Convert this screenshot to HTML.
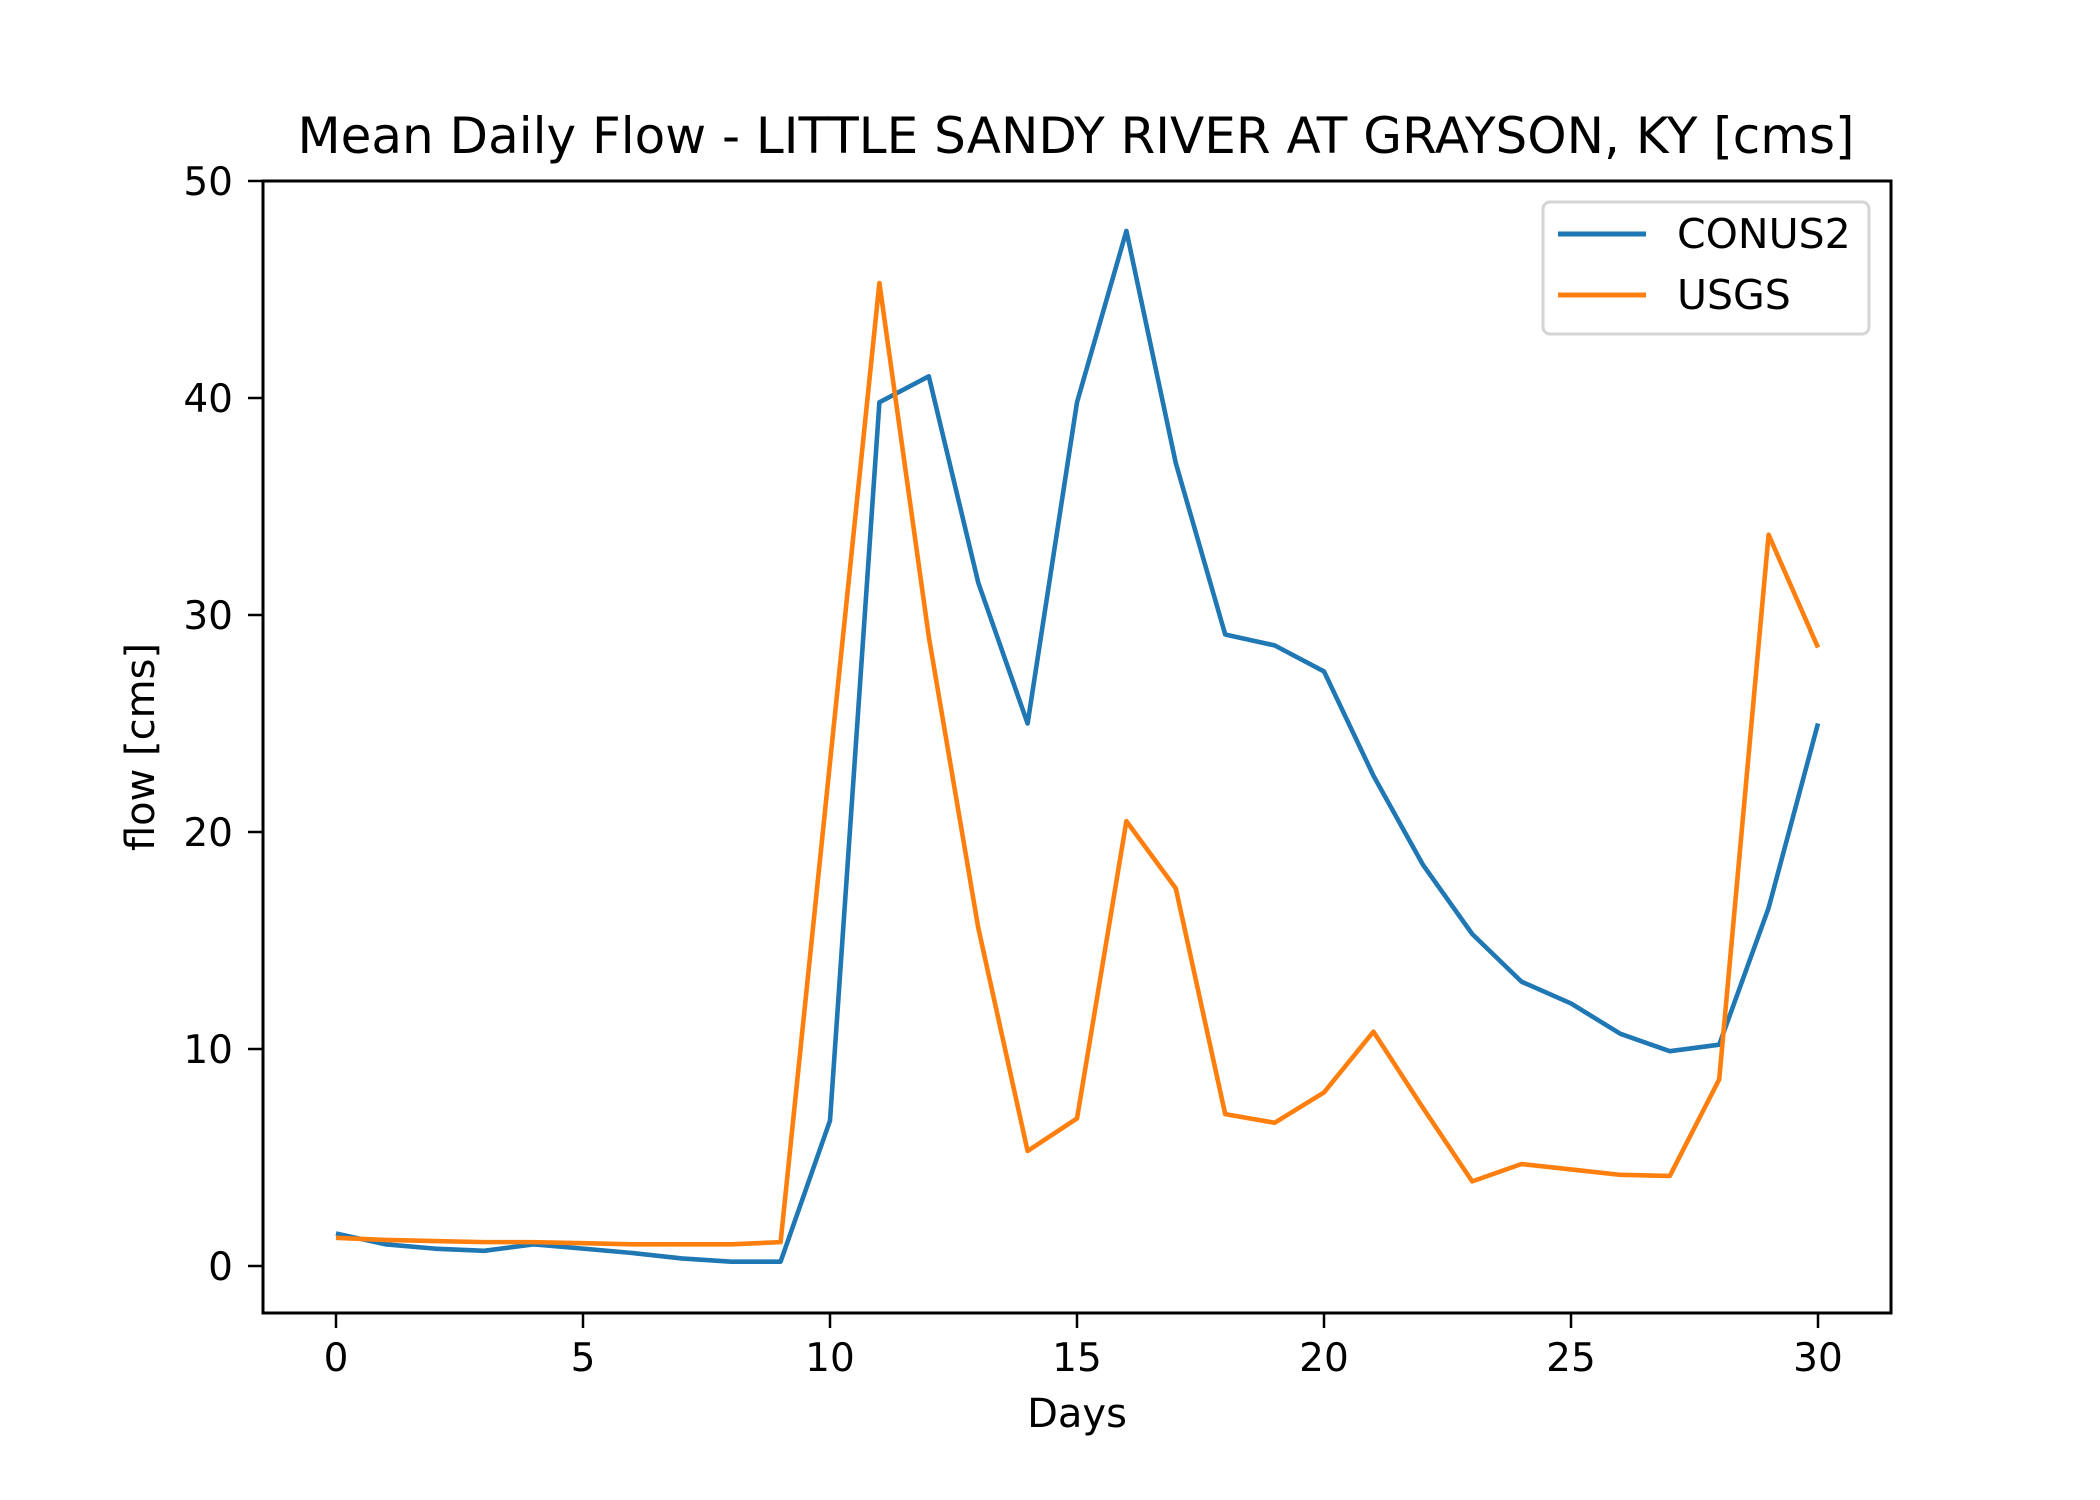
<!DOCTYPE html>
<html><head><meta charset="utf-8"><style>
html,body{margin:0;padding:0;background:#fff;}
svg{display:block;}
text{font-family:"DejaVu Sans","Liberation Sans",sans-serif;fill:#000;}
</style></head><body>
<svg id="chart" width="2100" height="1500" viewBox="0 0 2100 1500" xmlns="http://www.w3.org/2000/svg">
<rect width="2100" height="1500" fill="#fff"/>
<text x="1076" y="153" font-size="50" text-anchor="middle">Mean Daily Flow - LITTLE SANDY RIVER AT GRAYSON, KY [cms]</text>
<g id="ticks"></g>
<g id="lines"></g>
<rect x="263" y="181" width="1628" height="1132" fill="none" stroke="#000" stroke-width="3"/>
<text x="1077" y="1427" font-size="40" text-anchor="middle">Days</text>
<text transform="translate(154,747) rotate(-90)" font-size="40" text-anchor="middle">flow [cms]</text>
<g>
<rect x="1543" y="202" width="326" height="132" rx="7" fill="#fff" stroke="#d4d4d4" stroke-width="3"/>
<line x1="1558" y1="234" x2="1646" y2="234" stroke="#1f77b4" stroke-width="5"/>
<text x="1677" y="248" font-size="41">CONUS2</text>
<line x1="1558" y1="295" x2="1646" y2="295" stroke="#ff7f0e" stroke-width="5"/>
<text x="1677" y="309" font-size="41">USGS</text>
</g>
</svg>
<script>
const days = [0,1,2,3,4,5,6,7,8,9,10,11,12,13,14,15,16,17,18,19,20,21,22,23,24,25,26,27,28,29,30];
const conus2 = [1.5,1.0,0.8,0.7,1.0,0.8,0.6,0.35,0.2,0.2,6.7,39.8,41.0,31.5,25.0,39.8,47.7,37.0,29.1,28.6,27.4,22.6,18.5,15.3,13.1,12.1,10.7,9.9,10.2,16.5,25.0];
const usgs = [1.3,1.2,1.15,1.1,1.1,1.05,1.0,1.0,1.0,1.1,23.2,45.3,29.0,15.6,5.3,6.8,20.5,17.4,7.0,6.6,8.0,10.8,7.3,3.9,4.7,4.45,4.2,4.15,8.6,33.7,28.5];
const xTicks = [0,5,10,15,20,25,30];
const yTicks = [0,10,20,30,40,50];
const NS = "http://www.w3.org/2000/svg";
function xs(v){return 336 + (1818-336)*v/30;}
function ys(v){return 1266 - (1266-181)*v/50;}
const tg = document.getElementById('ticks');
xTicks.forEach(t=>{
  const l=document.createElementNS(NS,'line');
  
  
  l.setAttribute('x1',xs(t));l.setAttribute('x2',xs(t));l.setAttribute('y1',1313);l.setAttribute('y2',1328);
  l.setAttribute('stroke','#000');l.setAttribute('stroke-width','2.5');tg.appendChild(l);
  const tx=document.createElementNS(NS,'text');
  
  
  tx.setAttribute('x',xs(t));tx.setAttribute('y',1371);tx.setAttribute('font-size','39');tx.setAttribute('text-anchor','middle');
  tx.textContent=t;tg.appendChild(tx);
});
yTicks.forEach(t=>{
  const l=document.createElementNS(NS,'line');
  
  
  l.setAttribute('x1',248);l.setAttribute('x2',263);l.setAttribute('y1',ys(t));l.setAttribute('y2',ys(t));
  l.setAttribute('stroke','#000');l.setAttribute('stroke-width','2.5');tg.appendChild(l);
  const tx=document.createElementNS(NS,'text');
  
  
  tx.setAttribute('x',233);tx.setAttribute('y',ys(t)+14);tx.setAttribute('font-size','39');tx.setAttribute('text-anchor','end');
  tx.textContent=t;tg.appendChild(tx);
});
const lg=document.getElementById('lines');
function addLine(vals,color,name){
  const p=document.createElementNS(NS,'polyline');
  
  
  p.setAttribute('points',vals.map((v,i)=>xs(days[i])+','+ys(v)).join(' '));
  p.setAttribute('fill','none');p.setAttribute('stroke',color);p.setAttribute('stroke-width','4.6');
  p.setAttribute('stroke-linejoin','round');
  lg.appendChild(p);
}
addLine(conus2,'#1f77b4','conus2-line');
addLine(usgs,'#ff7f0e','usgs-line');
</script>
</body></html>
